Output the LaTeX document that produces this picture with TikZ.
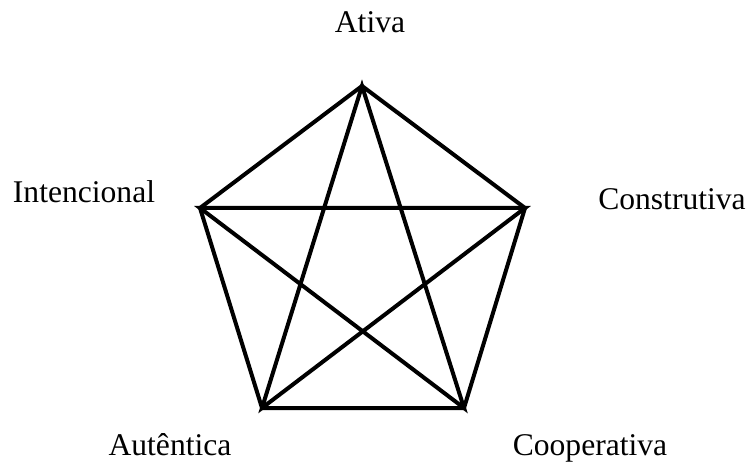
\documentclass[tikz,border=0pt]{standalone}
\usepackage{fontspec}
\setmainfont{Liberation Serif}
\usepackage{tikz}
\usetikzlibrary{positioning}

\begin{document}
\begin{tikzpicture}[x=0.5pt,y=-0.5pt,
  edge/.style={line width=2pt,line join=miter},
  lbl/.style={anchor=base,inner sep=0pt,font=\fontsize{15.8}{19}\selectfont}]
  \useasboundingbox (0,0) rectangle (749,464);
  % vertices
  \coordinate (ativa) at (362,86);
  \coordinate (constr) at (525,208);
  \coordinate (coop) at (464,408);
  \coordinate (autent) at (262,408);
  \coordinate (intenc) at (200,208);
  % labels
  \node[lbl] (tativa) at (370,33) {Ativa};
  \node[lbl] (tconstr) at (672,210) {Construtiva};
  \node[lbl] (tcoop) at (590,455) {Cooperativa};
  \node[lbl] (tautent) at (170,455) {Autêntica};
  \node[lbl] (tintenc) at (84,203) {Intencional};
  % pentagon and star
  \draw[edge] (ativa) -- (constr) -- (coop) -- (autent) -- (intenc) -- cycle;
  \draw[edge] (ativa) -- (autent) -- (constr) -- (intenc) -- (coop) -- cycle;
\end{tikzpicture}
\end{document}
